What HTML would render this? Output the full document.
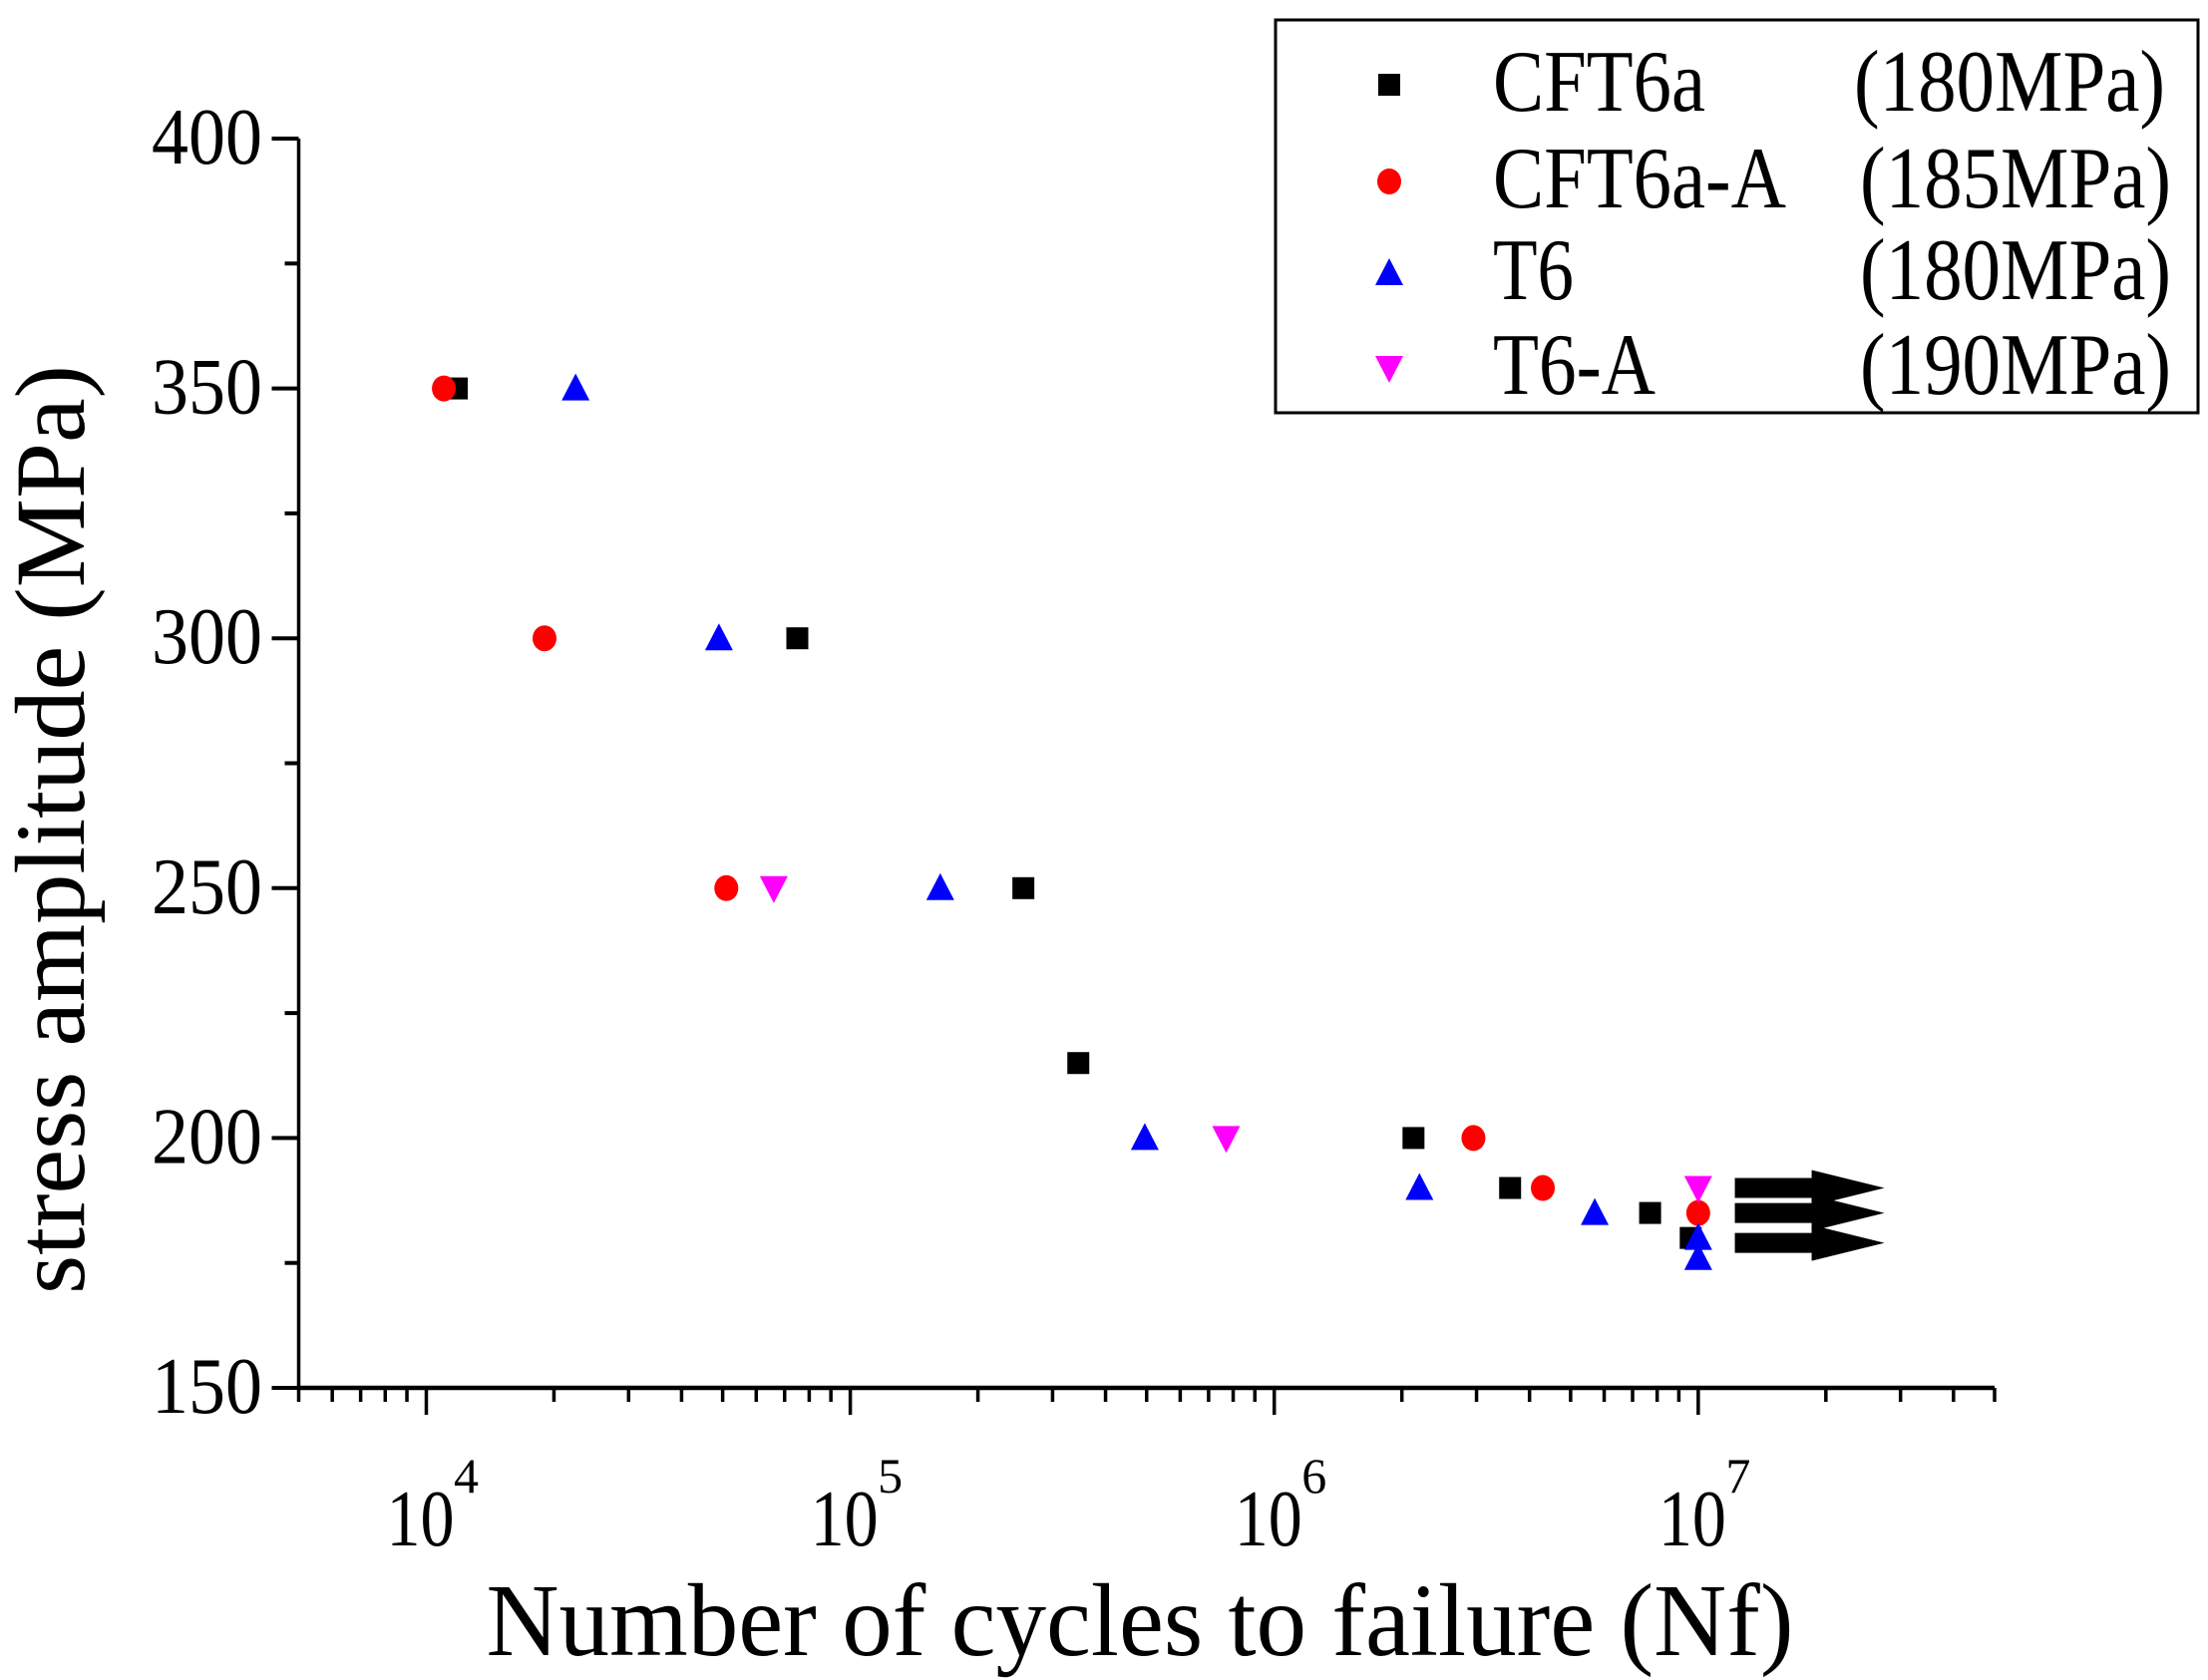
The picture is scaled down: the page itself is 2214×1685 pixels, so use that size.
<!DOCTYPE html>
<html><head><meta charset="utf-8"><style>
html,body{margin:0;padding:0;background:#fff;}
svg{display:block;font-family:"Liberation Serif",serif;}
</style></head><body>
<svg id="chart" width="2214" height="1685" viewBox="0 0 2214 1685" xmlns="http://www.w3.org/2000/svg">
<g id="axes"></g>
<g id="marks"></g>
<g id="arrows"></g>
<text x="1143" y="1660" font-size="104" text-anchor="middle" textLength="1311" lengthAdjust="spacingAndGlyphs">Number of cycles to failure (Nf)</text>
<text transform="translate(84,832) rotate(-90)" font-size="100" text-anchor="middle" textLength="932" lengthAdjust="spacingAndGlyphs">stress amplitude (MPa)</text>
<g>
<rect x="1279" y="20" width="925" height="394" fill="#fff" stroke="#000" stroke-width="3"/>
<g id="legend-entries"></g>
</g>
</svg>
<script>
const seriesNames = ["CFT6a","CFT6a-A","T6","T6-A"];
const seriesLimits = ["(180MPa)","(185MPa)","(180MPa)","(190MPa)"];
const cft6aN = [1.18e4,7.5e4,2.56e5,3.45e5,2.13e6,3.6e6,7.7e6,9.6e6];
const cft6aS = [350,300,250,215,200,190,185,180];
const cft6aAN = [1.1e4,1.9e4,5.1e4,2.95e6,4.3e6,1.0e7];
const cft6aAS = [350,300,250,200,190,185];
const t6N = [2.25e4,4.9e4,1.63e5,4.95e5,2.2e6,5.7e6,1.0e7,1.0e7];
const t6S = [350,300,250,200,190,185,180,176];
const t6AN = [6.6e4,7.7e5,1.0e7];
const t6AS = [250,200,190];
const arrowLevels = [190,185,179];
const arrowStartN = [1.22e7,1.22e7,1.22e7];
const yTicks = [150,200,250,300,350,400];
const xDecades = [4,5,6,7];

const NS="http://www.w3.org/2000/svg";
const X0=299.5,X1=2000,LMIN=Math.log10(5e3),LMAX=Math.log10(5e7);
const Y0=1392,Y1=139,SMIN=150,SMAX=400;
function xs(n){return X0+(Math.log10(n)-LMIN)/(LMAX-LMIN)*(X1-X0);}
function ys(s){return Y0-(s-SMIN)/(SMAX-SMIN)*(Y0-Y1);}
function mk(tag,attrs,parent){const e=document.createElementNS(NS,tag);for(const k in attrs)e.setAttribute(k,attrs[k]);parent.appendChild(e);return e;}

const axes=document.getElementById('axes');
let l=mk('line',{x1:X0,y1:Y1,x2:X0,y2:Y0+2,stroke:'#000','stroke-width':3.5},axes);


l=mk('line',{x1:X0-2,y1:Y0,x2:X1,y2:Y0,stroke:'#000','stroke-width':4.5},axes);


for(let s=SMIN;s<=SMAX;s+=25){
  const major=yTicks.includes(s);
  const t=mk('line',{x1:X0-(major?27:14),y1:ys(s),x2:X0,y2:ys(s),stroke:'#000','stroke-width':4},axes);
  
  
}
yTicks.forEach(v=>{
  const t=mk('text',{x:263,y:ys(v)+25,'font-size':80,'text-anchor':'end',textLength:111,lengthAdjust:'spacingAndGlyphs'},axes);
  t.textContent=v;
  
  
});
for(let d=3;d<=7;d++){
  for(let m=1;m<=9;m++){
    const n=m*Math.pow(10,d);
    if(n<5e3||n>5e7)continue;
    const major=m===1;
    const t=mk('line',{x1:xs(n),y1:Y0,x2:xs(n),y2:Y0+(major?27:14),stroke:'#000','stroke-width':3.5},axes);
    
    
  }
}
xDecades.forEach(d=>{
  const g=mk('text',{x:xs(Math.pow(10,d))-6,y:1550,'font-size':80,'text-anchor':'middle',textLength:68,lengthAdjust:'spacingAndGlyphs'},axes);
  g.textContent='10';
  
  
  const sp=mk('text',{x:xs(Math.pow(10,d))+40,y:1497,'font-size':50,'text-anchor':'middle'},axes);
  sp.textContent=d;
  
  
});

const marks=document.getElementById('marks');
function marker(type,x,y,parent){
  let e;
  if(type===0)e=mk('rect',{x:x-11,y:y-11,width:22,height:22,fill:'#000'},parent);
  else if(type===1)e=mk('ellipse',{cx:x,cy:y,rx:12,ry:13,fill:'#f00'},parent);
  else if(type===2)e=mk('polygon',{points:`${x},${y-15} ${x-14},${y+12} ${x+14},${y+12}`,fill:'#00f'},parent);
  else e=mk('polygon',{points:`${x-14},${y-12} ${x+14},${y-12} ${x},${y+15}`,fill:'#f0f'},parent);
  return e;
}
const sets=[[cft6aN,cft6aS],[cft6aAN,cft6aAS],[t6N,t6S],[t6AN,t6AS]];
const names=['cft6a-point','cft6a-a-point','t6-point','t6-a-point'];
sets.forEach((s,i)=>{
  s[0].forEach((n,j)=>{
    const e=marker(i,xs(n),ys(s[1][j]),marks);
    
    
  });
});

const arrows=document.getElementById('arrows');
arrowLevels.forEach((v,i)=>{
  const x=xs(arrowStartN[i]),y=ys(v);
  const e=mk('polygon',{points:`${x},${y-10} ${x+77},${y-10} ${x+77},${y-18} ${x+150},${y} ${x+77},${y+18} ${x+77},${y+10} ${x},${y+10}`,fill:'#000'},arrows);
  
  
});

const leg=document.getElementById('legend-entries');
const rowY=[85,182,274,369];
const nameWidths=[213,294,81,163];
seriesNames.forEach((nm,i)=>{
  const m=marker(i,1393,rowY[i],leg);
  
  
  const t=mk('text',{x:1497,y:rowY[i]+26,'font-size':88,textLength:nameWidths[i],lengthAdjust:'spacingAndGlyphs'},leg);
  t.textContent=nm;
  
  
  const p=mk('text',{x:1863+(i===0?-4:2),y:rowY[i]+26,'font-size':88,textLength:312,lengthAdjust:'spacingAndGlyphs'},leg);
  p.textContent=seriesLimits[i];
  
  
});
</script>
</body></html>
